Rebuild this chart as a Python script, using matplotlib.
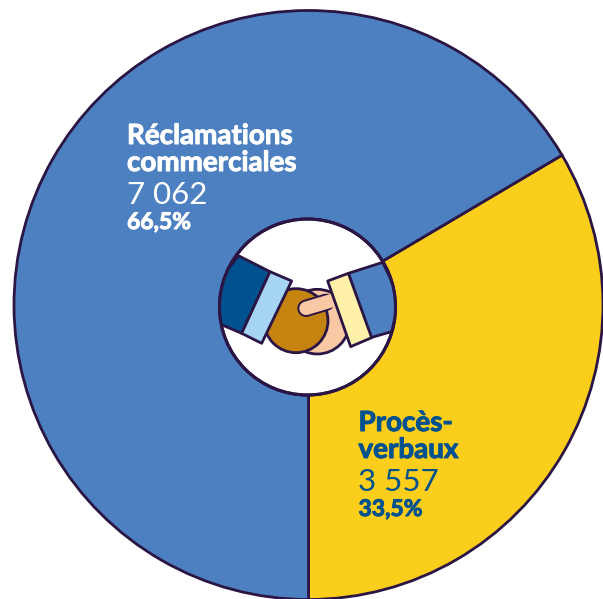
import matplotlib
matplotlib.use("Agg")
import matplotlib.pyplot as plt
import matplotlib.patheffects as pe
from matplotlib.patches import Circle, Polygon

categories = ["Procès-\nverbaux", "Réclamations\ncommerciales"]
values = [3557, 7062]
value_labels = ["3 557", "7 062"]
share_labels = ["33,5%", "66,5%"]

W, H = 603, 599
INK = "#2B1544"
BLUE = "#4D80C0"
YELLOW = "#FBCE1B"
DARK = "#00518F"
PEACH = "#FAC8A5"
plt.rcParams["font.family"] = ["Lato", "DejaVu Sans"]

fig = plt.figure(figsize=(W / 100, H / 100), dpi=100)
ax = fig.add_axes([0, 0, 1, 1])

def Y(y):
    return H - y

ax.pie(values, colors=[YELLOW, BLUE], startangle=-90, counterclock=True,
       center=(308.5, Y(305)), radius=294.5,
       wedgeprops=dict(edgecolor=INK, linewidth=2.0), frame=True)
ax.set_xlim(0, W)
ax.set_ylim(0, H)
ax.set_aspect("equal")
ax.axis("off")

# central handshake icon
def Z(pts):
    return [(200 + x / 3, Y(205 + y / 3)) for x, y in pts]

cx, cy, r = 307.5, Y(307), 88
ax.add_patch(Circle((cx, cy), r, fc="white", ec=INK, lw=2.2, zorder=5))
clip = Circle((cx, cy), r, transform=ax.transData)

def poly(pts, color, z):
    p = Polygon(Z(pts), closed=True, fc=color, ec=INK, lw=2.0, zorder=z, joinstyle="round")
    ax.add_patch(p)
    p.set_clip_path(clip)

def disc(x, y, rad, color, z):
    ax.add_patch(Circle(Z([(x, y)])[0], rad / 3, fc=color, ec=INK, lw=2.0, zorder=z))

disc(352, 350, 97, PEACH, 6)
disc(288, 347, 96, "#C5830F", 7)
edge = Z([(318, 310), (378, 292)])
fill = Z([(318, 310), (425, 278)])
ax.plot(*zip(*edge), color=INK, lw=12.5, solid_capstyle="round", zorder=8)
ax.plot(*zip(*fill), color=PEACH, lw=9.7, solid_capstyle="round", zorder=8.1)
poly([(115, 152), (210, 200), (125, 385), (62, 358), (40, 250)], DARK, 9)
poly([(210, 200), (275, 228), (185, 415), (125, 385)], "#A6D5F3", 9)
poly([(445, 205), (548, 172), (600, 280), (575, 380), (512, 398)], BLUE, 9)
poly([(383, 228), (445, 205), (515, 398), (452, 425)], "#FFF2A8", 9)
ax.add_patch(Circle((cx, cy), r, fc="none", ec=INK, lw=2.2, zorder=10))

def block(x, y, name, val, share, color):
    thick = [pe.withStroke(linewidth=0.7, foreground=color)]
    yy = y
    for ln in name.split("\n"):
        ax.text(x, Y(yy), ln, color=color, fontsize=20, fontweight="bold",
                va="baseline", ha="left", zorder=11, path_effects=thick)
        yy += 27
    yy -= 27
    ax.text(x, Y(yy + 33), val, color=color, fontsize=22.5, fontweight="normal",
            va="baseline", ha="left", zorder=11)
    ax.text(x, Y(yy + 58), share, color=color, fontsize=16.5, fontweight="bold",
            va="baseline", ha="left", zorder=11, path_effects=thick)

block(127, 144, categories[1], value_labels[1], share_labels[1], "white")
block(358.5, 431, categories[0], value_labels[0], share_labels[0], DARK)

fig.savefig("out.png", dpi=100, facecolor="white")
